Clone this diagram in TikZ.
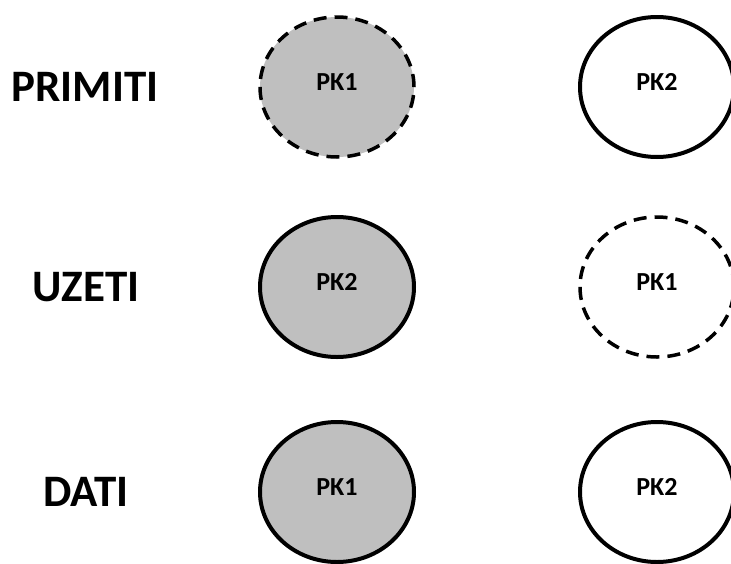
\documentclass[tikz,border=0pt]{standalone}
\usepackage{fontspec}
\setmainfont{Carlito}
\usetikzlibrary{shapes.geometric}
\usetikzlibrary{positioning}
\definecolor{pkgray}{RGB}{191,191,191}

\begin{document}
\begin{tikzpicture}[x=1pt,y=-1pt,node distance=320pt,
  pk/.style={draw,ellipse,line width=4pt,minimum width=154pt,minimum height=140pt,inner sep=0pt,text depth=10pt,font=\fontsize{26}{26}\selectfont\bfseries},
  pkdash/.style={pk,line width=3.5pt,dash pattern=on 13pt off 8pt},
  row/.style={font=\fontsize{45}{45}\selectfont\bfseries}]
  \useasboundingbox (0,0) rectangle (731,563);
  \node[pkdash,fill=pkgray] (p1) at (337,87) {PK1};
  \node[pk,right of=p1] (p2) {PK2};
  \node[pk,fill=pkgray] (u2) at (337,287) {PK2};
  \node[pkdash,right of=u2] (u1) {PK1};
  \node[pk,fill=pkgray] (d1) at (337,492) {PK1};
  \node[pk,right of=d1] (d2) {PK2};
  \node[row,left of=p1,node distance=252pt] (primiti) {PRIMITI};
  \node[row,left of=u2,node distance=251pt] (uzeti) {UZETI};
  \node[row,left of=d1,node distance=251pt] (dati) {DATI};
\end{tikzpicture}
\end{document}
